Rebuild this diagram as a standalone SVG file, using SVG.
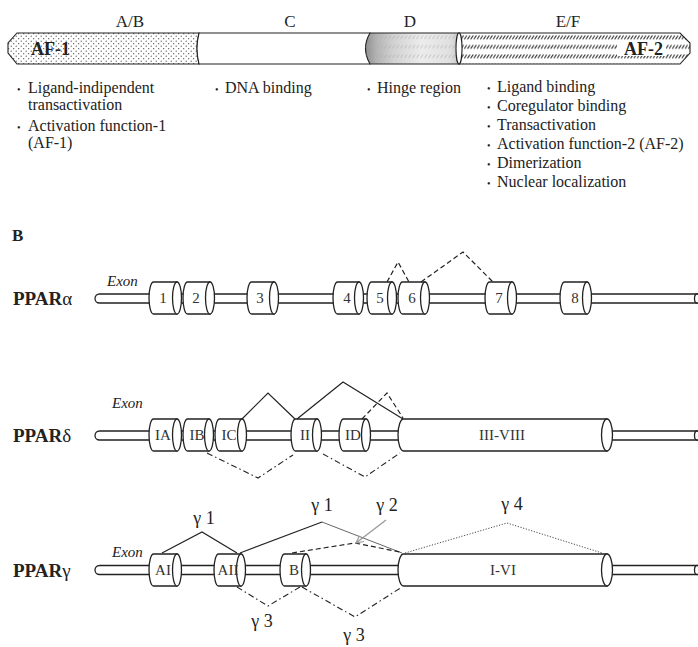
<svg xmlns="http://www.w3.org/2000/svg" width="698" height="647" viewBox="0 0 698 647">
<defs>
<style>
text{font-family:"Liberation Serif","Times New Roman",serif;fill:#222}
.lbl{font-size:17px}
.bul{font-size:16px}
.dot{font-size:10px}
.gene{font-size:19px;font-weight:bold}
.exon{font-size:15px;font-style:italic}
.ex{font-size:15px;fill:#333;text-anchor:middle}
.g{font-size:18px;text-anchor:middle}
.cyl{fill:#fff;stroke:#222;stroke-width:1.3}
.tube{fill:#fff;stroke:#222;stroke-width:1.3}
.solid{fill:none;stroke:#222;stroke-width:1.2}
.dash{fill:none;stroke:#222;stroke-width:1.2;stroke-dasharray:5,3}
.dd{fill:none;stroke:#222;stroke-width:1.1;stroke-dasharray:6,3,1.5,3}
.dotted{fill:none;stroke:#333;stroke-width:0.9;stroke-dasharray:1.2,1.6}
</style>
<pattern id="stip" patternUnits="userSpaceOnUse" width="5" height="5">
<rect width="5" height="5" fill="#fff"/>
<circle cx="1.2" cy="1.2" r="0.6" fill="#444"/>
<circle cx="3.7" cy="3.7" r="0.6" fill="#444"/>
</pattern>
<pattern id="hatch" patternUnits="userSpaceOnUse" x="0" y="35" width="3.2" height="9.5">
<rect width="3.2" height="9.5" fill="#fff"/>
<path d="M0.4,4.2 L2.8,0.4" stroke="#222" stroke-width="1"/>
</pattern>
<pattern id="hhatch" patternUnits="userSpaceOnUse" x="0" y="35" width="4" height="9.5">
<path d="M0.5,4 L3,0.5" stroke="#aaa" stroke-width="0.6"/>
</pattern>
<linearGradient id="hinge" x1="0" x2="1" y1="0" y2="0">
<stop offset="0" stop-color="#8e8e8e"/>
<stop offset="0.12" stop-color="#b4b4b4"/>
<stop offset="0.3" stop-color="#d2d2d2"/>
<stop offset="0.6" stop-color="#ececec"/>
<stop offset="0.9" stop-color="#e0e0e0"/>
<stop offset="1" stop-color="#c8c8c8"/>
</linearGradient>
<marker id="arr" viewBox="0 0 10 10" refX="9" refY="5" markerWidth="9" markerHeight="9" orient="auto" markerUnits="userSpaceOnUse">
<path d="M1,1 L9,5 L1,9" fill="none" stroke="#999" stroke-width="1.3"/>
</marker>
</defs>
<rect width="698" height="647" fill="#fff"/>

<!-- Panel A: domain bar -->
<g id="domainA">
<path d="M17,33 H199 Q195,48.5 199,64 H17 L8,53 V43 Z" fill="url(#stip)" stroke="#222" stroke-width="1.1"/>
<text x="31" y="55" style="font-size:18px;font-weight:bold">AF-1</text>
<text class="lbl" x="130" y="27" text-anchor="middle">A/B</text>
<text class="bul" y="93"><tspan class="dot" x="17">•</tspan><tspan x="28">Ligand-indipendent</tspan></text>
<text class="bul" x="28" y="110">transactivation</text>
<text class="bul" y="131"><tspan class="dot" x="17">•</tspan><tspan x="28">Activation function-1</tspan></text>
<text class="bul" x="28" y="148">(AF-1)</text>
</g>
<g id="domainC">
<path d="M199,33 H370 V64 H199 Q195,48.5 199,33 Z" fill="#fff" stroke="#222" stroke-width="1.1"/>
<text class="lbl" x="290" y="27" text-anchor="middle">C</text>
<text class="bul" y="93"><tspan class="dot" x="215">•</tspan><tspan x="225">DNA binding</tspan></text>
</g>
<g id="domainD">
<path d="M370,33 H459 V64 H370 Q361,48.5 370,33 Z" fill="url(#hinge)" stroke="#222" stroke-width="1.1"/>
<path d="M370,33 H459 V64 H370 Q361,48.5 370,33 Z" fill="url(#hhatch)" stroke="none"/>
<text class="lbl" x="410" y="27" text-anchor="middle">D</text>
<text class="bul" y="93"><tspan class="dot" x="367">•</tspan><tspan x="377">Hinge region</tspan></text>
</g>
<g id="domainEF">
<path d="M459,33 H680 L690,43 V53 L680,64 H459 Z" fill="url(#hatch)" stroke="#222" stroke-width="1.1"/>
<rect x="617" y="41" width="49" height="15" fill="#fff"/>
<ellipse cx="459" cy="48.5" rx="3" ry="15.5" fill="#fff" stroke="#222" stroke-width="1.1"/>
<text x="624" y="55" style="font-size:18px;font-weight:bold">AF-2</text>
<text class="lbl" x="568" y="27" text-anchor="middle">E/F</text>
<text class="bul" y="92"><tspan class="dot" x="487">•</tspan><tspan x="497">Ligand binding</tspan></text>
<text class="bul" y="111"><tspan class="dot" x="487">•</tspan><tspan x="497">Coregulator binding</tspan></text>
<text class="bul" y="130"><tspan class="dot" x="487">•</tspan><tspan x="497">Transactivation</tspan></text>
<text class="bul" y="149"><tspan class="dot" x="487">•</tspan><tspan x="497">Activation function-2 (AF-2)</tspan></text>
<text class="bul" y="168"><tspan class="dot" x="487">•</tspan><tspan x="497">Dimerization</tspan></text>
<text class="bul" y="187"><tspan class="dot" x="487">•</tspan><tspan x="497">Nuclear localization</tspan></text>
</g>

<text x="12" y="241" style="font-size:17px;font-weight:bold">B</text>

<!-- PPAR alpha -->
<g id="ppara">
<text class="gene" x="13" y="305">PPAR<tspan font-weight="normal">α</tspan></text>
<text class="exon" x="107" y="286">Exon</text>
<rect class="tube" x="95" y="294" width="612" height="9" rx="4.5"/>
<ellipse class="tube" cx="697" cy="298.5" rx="2.5" ry="4.5"/>
</g>
<g id="a1"><path class="cyl" d="M153.5,282 H177 V314 H153.5 A4.5,16 0 0 1 153.5,282 Z"/><ellipse class="cyl" cx="177" cy="298" rx="4.5" ry="16"/><text class="ex" x="163" y="303">1</text></g>
<g id="a2"><path class="cyl" d="M187.5,282 H210 V314 H187.5 A4.5,16 0 0 1 187.5,282 Z"/><ellipse class="cyl" cx="210" cy="298" rx="4.5" ry="16"/><text class="ex" x="196" y="303">2</text></g>
<g id="a3"><path class="cyl" d="M251.5,282 H274 V314 H251.5 A4.5,16 0 0 1 251.5,282 Z"/><ellipse class="cyl" cx="274" cy="298" rx="4.5" ry="16"/><text class="ex" x="260" y="303">3</text></g>
<g id="a4"><path class="cyl" d="M337.5,282 H359 V314 H337.5 A4.5,16 0 0 1 337.5,282 Z"/><ellipse class="cyl" cx="359" cy="298" rx="4.5" ry="16"/><text class="ex" x="347" y="303">4</text></g>
<g id="a5"><path class="cyl" d="M371.5,282 H392 V314 H371.5 A4.5,16 0 0 1 371.5,282 Z"/><ellipse class="cyl" cx="392" cy="298" rx="4.5" ry="16"/><text class="ex" x="380" y="303">5</text></g>
<g id="a6"><path class="cyl" d="M402.5,282 H425 V314 H402.5 A4.5,16 0 0 1 402.5,282 Z"/><ellipse class="cyl" cx="425" cy="298" rx="4.5" ry="16"/><text class="ex" x="412" y="303">6</text></g>
<g id="a7"><path class="cyl" d="M489.5,282 H512 V314 H489.5 A4.5,16 0 0 1 489.5,282 Z"/><ellipse class="cyl" cx="512" cy="298" rx="4.5" ry="16"/><text class="ex" x="499" y="303">7</text></g>
<g id="a8"><path class="cyl" d="M564.5,282 H587 V314 H564.5 A4.5,16 0 0 1 564.5,282 Z"/><ellipse class="cyl" cx="587" cy="298" rx="4.5" ry="16"/><text class="ex" x="575" y="303">8</text></g>

<!-- PPAR delta -->
<g id="pprd">
<text class="gene" x="13" y="442">PPAR<tspan font-weight="normal">δ</tspan></text>
<text class="exon" x="112" y="408">Exon</text>
<rect class="tube" x="95" y="431" width="612" height="9" rx="4.5"/>
<ellipse class="tube" cx="697" cy="435.5" rx="2.5" ry="4.5"/>
</g>
<g id="dIA"><path class="cyl" d="M153.5,419 H177 V451 H153.5 A4.5,16 0 0 1 153.5,419 Z"/><ellipse class="cyl" cx="177" cy="435" rx="4.5" ry="16"/><text class="ex" x="163" y="440">IA</text></g>
<g id="dIB"><path class="cyl" d="M187.5,419 H209 V451 H187.5 A4.5,16 0 0 1 187.5,419 Z"/><ellipse class="cyl" cx="209" cy="435" rx="4.5" ry="16"/><text class="ex" x="197" y="440">IB</text></g>
<g id="dIC"><path class="cyl" d="M219.5,419 H242 V451 H219.5 A4.5,16 0 0 1 219.5,419 Z"/><ellipse class="cyl" cx="242" cy="435" rx="4.5" ry="16"/><text class="ex" x="229" y="440">IC</text></g>
<g id="dII"><path class="cyl" d="M295.5,419 H317 V451 H295.5 A4.5,16 0 0 1 295.5,419 Z"/><ellipse class="cyl" cx="317" cy="435" rx="4.5" ry="16"/><text class="ex" x="305" y="440">II</text></g>
<g id="dID"><path class="cyl" d="M343.5,419 H366 V451 H343.5 A4.5,16 0 0 1 343.5,419 Z"/><ellipse class="cyl" cx="366" cy="435" rx="4.5" ry="16"/><text class="ex" x="353" y="440">ID</text></g>
<g id="dIII"><path class="cyl" d="M403.5,419 H607 V451 H403.5 A5.5,16 0 0 1 403.5,419 Z"/><ellipse class="cyl" cx="607" cy="435" rx="5.5" ry="16"/><text class="ex" x="502" y="440">III-VIII</text></g>

<!-- PPAR gamma -->
<g id="pprg">
<text class="gene" x="13" y="577">PPAR<tspan font-weight="normal">γ</tspan></text>
<text class="exon" x="112" y="557">Exon</text>
<rect class="tube" x="95" y="565.5" width="612" height="9" rx="4.5"/>
<ellipse class="tube" cx="697" cy="570" rx="2.5" ry="4.5"/>
</g>
<g id="gAI"><path class="cyl" d="M153.5,554 H177 V586 H153.5 A4.5,16 0 0 1 153.5,554 Z"/><ellipse class="cyl" cx="177" cy="570" rx="4.5" ry="16"/><text class="ex" x="163" y="575">AI</text></g>
<g id="gAII"><path class="cyl" d="M218.5,554 H241 V586 H218.5 A4.5,16 0 0 1 218.5,554 Z"/><ellipse class="cyl" cx="241" cy="570" rx="4.5" ry="16"/><text class="ex" x="228" y="575">AII</text></g>
<g id="gB"><path class="cyl" d="M284.5,554 H306 V586 H284.5 A4.5,16 0 0 1 284.5,554 Z"/><ellipse class="cyl" cx="306" cy="570" rx="4.5" ry="16"/><text class="ex" x="294" y="575">B</text></g>
<g id="gIVI"><path class="cyl" d="M403.5,554 H607 V586 H403.5 A5.5,16 0 0 1 403.5,554 Z"/><ellipse class="cyl" cx="607" cy="570" rx="5.5" ry="16"/><text class="ex" x="503" y="575">I-VI</text></g>

<!-- connectors -->
<g id="connectors">
<polyline class="dash" points="387,282 398,262 409,282"/>
<polyline class="dash" points="421,282 463,252 493,282"/>

<polyline class="solid" points="242,419 268,393 295,419"/>
<polyline class="solid" points="297,419 343,382 403,419"/>
<polyline class="dash" points="362,419 387,393 403,418"/>
<polyline class="dd" points="207,453 258,478 293,455"/>
<polyline class="dd" points="323,454 365,477 400,453"/>

<polyline class="solid" points="162,553 202,532 237,553"/>
<polyline class="solid" points="240,553 322,522"/>
<polyline fill="none" stroke="#666" stroke-width="1" points="322,522 402,553"/>
<polyline class="dash" points="292,553 355,543 400,552"/>
<polyline class="dotted" points="405,553 507,523 602,553"/>
<polyline class="dd" points="237,587 268,606 300,587"/>
<polyline class="dd" points="302,587 355,617 402,587"/>
<line x1="386" y1="520" x2="356" y2="543" stroke="#999" stroke-width="1.3" marker-end="url(#arr)"/>
</g>

<g id="gammaLabels">
<text class="g" x="204" y="524">γ 1</text>
<text class="g" x="322" y="511">γ 1</text>
<text class="g" x="387" y="511">γ 2</text>
<text class="g" x="512" y="510">γ 4</text>
<text class="g" x="262" y="627">γ 3</text>
<text class="g" x="354" y="641">γ 3</text>
</g>
</svg>
